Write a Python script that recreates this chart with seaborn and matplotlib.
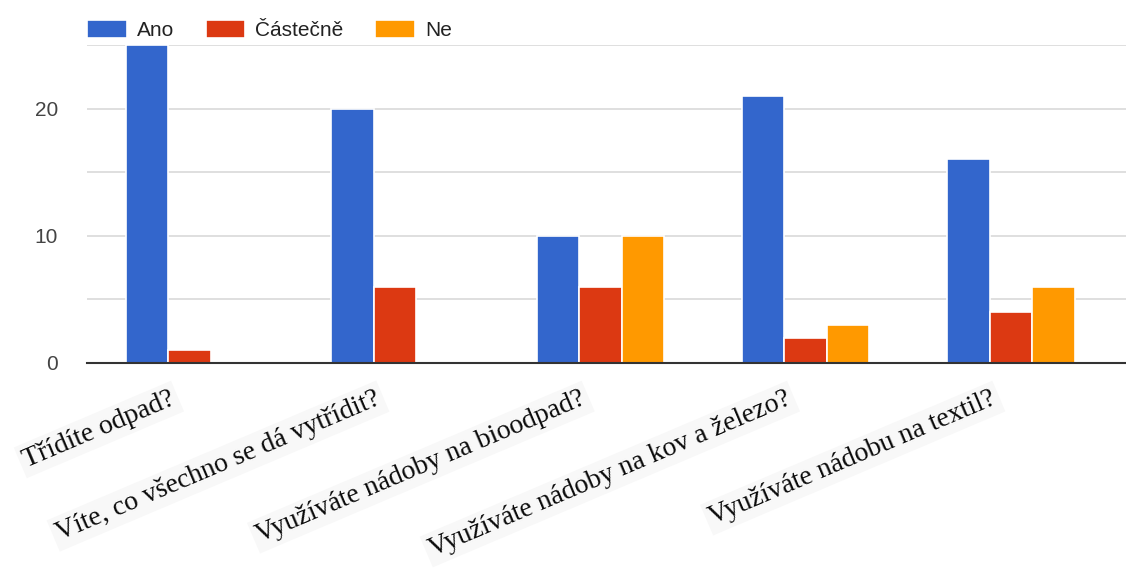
import matplotlib
matplotlib.use("Agg")
import matplotlib.pyplot as plt
from matplotlib.transforms import ScaledTranslation
import seaborn as sns
import pandas as pd

otazky = [
    "Třídíte odpad?",
    "Víte, co všechno se dá vytřídit?",
    "Využíváte nádoby na bioodpad?",
    "Využíváte nádoby na kov a železo?",
    "Využíváte nádobu na textil?",
]
odpovedi = ["Ano", "Částečně", "Ne"]
ano = [25, 20, 10, 21, 16]
castecne = [1, 6, 6, 2, 4]
ne = [0, 0, 10, 3, 6]
barvy = ["#3366cc", "#dc3912", "#ff9900"]

rows = []
for i, q in enumerate(otazky):
    for odp, vals in zip(odpovedi, [ano, castecne, ne]):
        rows.append({"otazka": q, "odpoved": odp, "pocet": vals[i]})
df = pd.DataFrame(rows)

sns.set_theme(style="white")
plt.rcParams["font.family"] = ["Liberation Sans", "DejaVu Sans"]

fig = plt.figure(figsize=(11.26, 5.72), dpi=100)
ax = fig.add_axes([87 / 1126, 1 - 363 / 572, 1 - 87 / 1126, 318 / 572])

sns.barplot(data=df, x="otazka", y="pocet", hue="odpoved", palette=barvy,
            width=0.62, edgecolor="white", linewidth=1.2, saturation=1,
            ax=ax)

ax.set_ylim(0, 25)
ax.set_xlim(-0.5, 4.56)
ax.set_yticks([0, 5, 10, 15, 20, 25])
ax.set_yticklabels(["0", "", "10", "", "20", ""])
ax.yaxis.grid(True, color="#d9d9d9", linewidth=1.2)
ax.set_axisbelow(True)
ax.tick_params(axis="y", length=0, pad=21, labelsize=15, labelcolor="#444444")
ax.tick_params(axis="x", length=0, pad=25)
for s in ["top", "right", "left"]:
    ax.spines[s].set_visible(False)
ax.spines["bottom"].set_color("#333333")
ax.spines["bottom"].set_linewidth(1.5)
ax.set_xlabel("")
ax.set_ylabel("")

ax.set_xticks(range(len(otazky)))
ax.set_xticklabels(otazky, rotation=23, ha="right", va="center",
                   rotation_mode="anchor", fontsize=20,
                   family=["Liberation Serif", "DejaVu Serif"], color="#0a0a0a")
for lab in ax.get_xticklabels():
    lab.set_bbox(dict(facecolor="#f8f8f8", edgecolor="none", pad=3))
    lab.set_transform(lab.get_transform()
                      + ScaledTranslation(-16 / 100, 0, fig.dpi_scale_trans))

leg = ax.legend(loc="center left", bbox_to_anchor=(0, 1 + 15 / 318), ncol=3,
                frameon=False, fontsize=15, handlelength=1.9, handleheight=1.0,
                borderpad=0, borderaxespad=0, columnspacing=1.5,
                handletextpad=0.5)
for t in leg.get_texts():
    t.set_color("#222222")

fig.savefig("out.png", dpi=100, facecolor="white")
